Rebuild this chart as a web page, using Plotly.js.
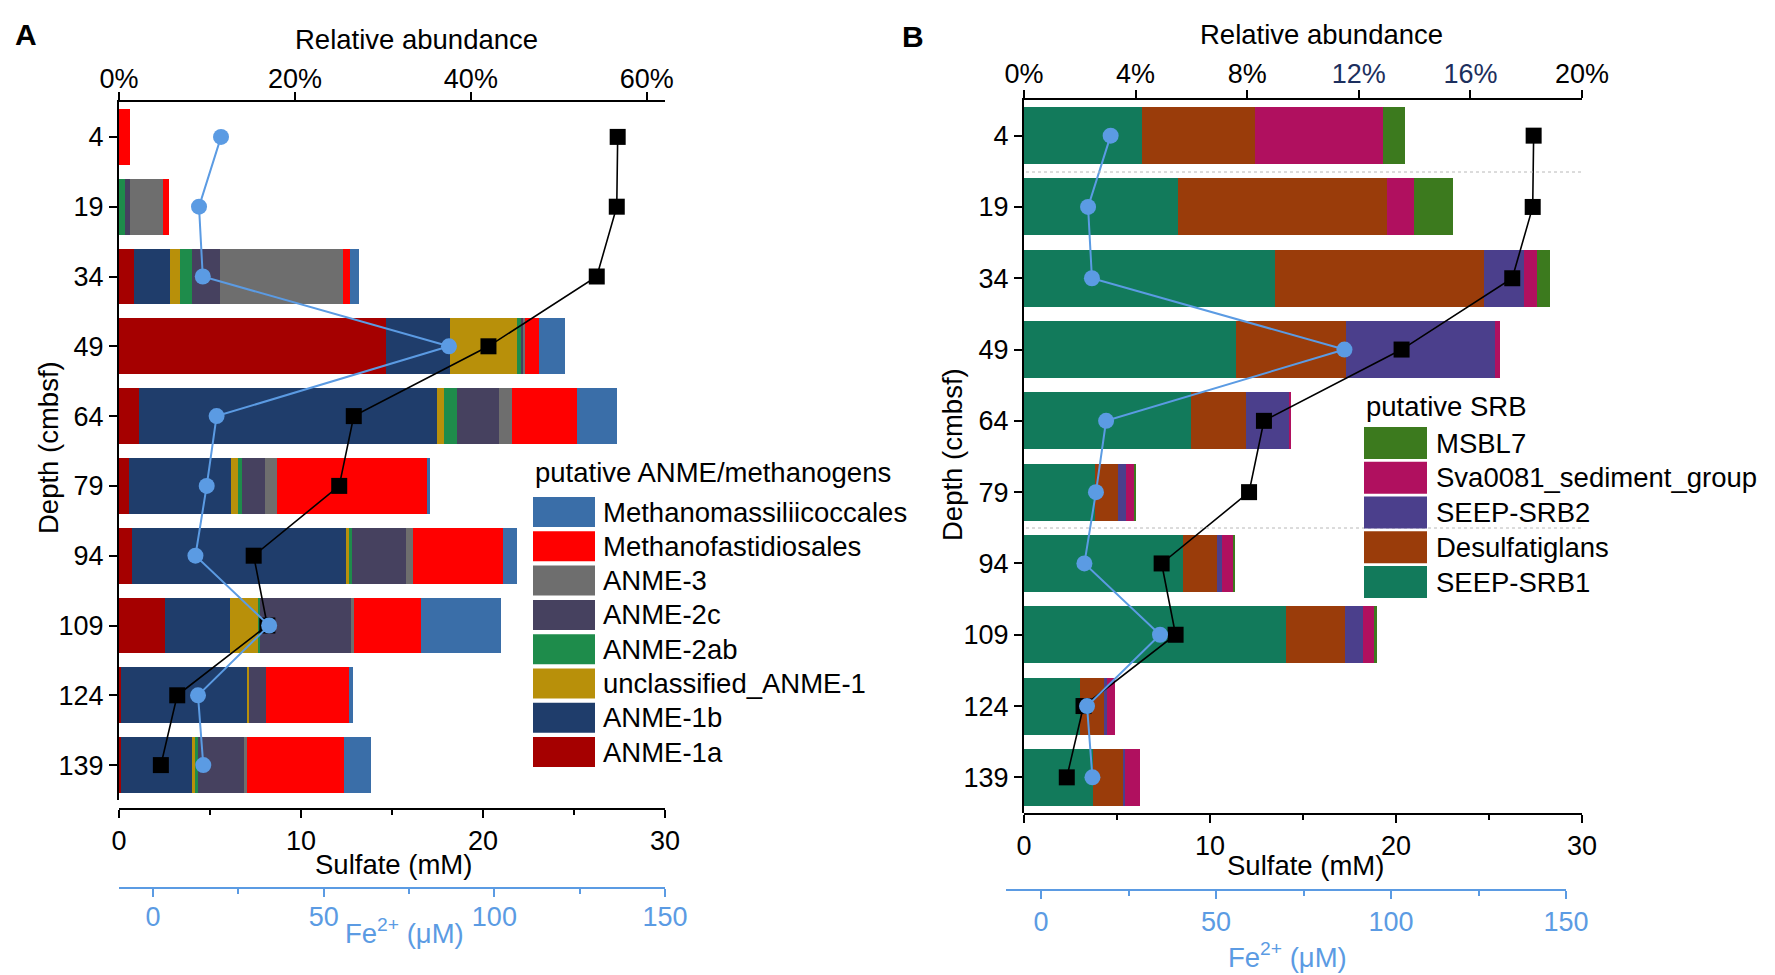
<!DOCTYPE html>
<html>
<head>
<meta charset="utf-8">
<script src="https://cdn.plot.ly/plotly-3.0.1.min.js"></script>
<style>html,body{margin:0;padding:0;background:#fff;}#chart{width:1775px;height:975px;}</style>
</head>
<body>
<div id="chart"></div>
<script>
// ---------- data ----------
const depths = [4, 19, 34, 49, 64, 79, 94, 109, 124, 139];
const sulfate = [27.4, 27.35, 26.25, 20.3, 12.9, 12.1, 7.4, 8.15, 3.2, 2.3];   // mM
const fe = [19.9, 13.45, 14.55, 86.7, 18.6, 15.7, 12.4, 34.0, 13.15, 14.7];     // µM

// Panel A (relative abundance, %), stacking order left -> right
const anmeNames = ["ANME-1a", "ANME-1b", "unclassified_ANME-1", "ANME-2ab", "ANME-2c", "ANME-3", "Methanofastidiosales", "Methanomassiliicoccales"];
const anme1a = [0, 0, 1.68, 30.4, 2.3, 1.17, 1.5, 5.2, 0.2, 0.2];
const anme1b = [0, 0, 4.16, 7.2, 33.8, 11.6, 24.3, 7.4, 14.4, 8.1];
const unclAnme1 = [0, 0, 1.07, 7.7, 0.86, 0.76, 0.4, 3.15, 0.2, 0.3];
const anme2ab = [0, 0.66, 1.37, 0.4, 1.5, 0.4, 0.3, 0.3, 0, 0.4];
const anme2c = [0, 0.56, 3.2, 0.25, 4.7, 2.7, 6.1, 10.3, 1.9, 5.2];
const anme3 = [0, 3.76, 13.96, 0.25, 1.5, 1.3, 0.86, 0.4, 0, 0.36];
const methanofast = [1.2, 0.76, 0.81, 1.5, 7.4, 17.1, 10.2, 7.6, 9.5, 11.0];
const methanomass = [0, 0, 1.07, 3.05, 4.5, 0.36, 1.6, 9.1, 0.36, 3.05];
const anmeValues = [anme1a, anme1b, unclAnme1, anme2ab, anme2c, anme3, methanofast, methanomass];
const anmeColors = ["#A50000", "#1F3D6B", "#B8900A", "#1E8C4B", "#46415F", "#6E6E6E", "#FF0000", "#3A6EA8"];

// Panel B (relative abundance, %), stacking order left -> right
const srbNames = ["SEEP-SRB1", "Desulfatiglans", "SEEP-SRB2", "Sva0081_sediment_group", "MSBL7"];
const seepSrb1 = [4.24, 5.53, 9.0, 7.6, 6.0, 2.55, 5.7, 9.4, 2.0, 2.49];
const desulfatiglans = [4.03, 7.47, 7.47, 3.95, 1.95, 0.82, 1.23, 2.12, 0.88, 1.05];
const seepSrb2 = [0, 0, 1.44, 5.33, 1.56, 0.27, 0.16, 0.62, 0.08, 0.08];
const sva0081 = [4.59, 0.99, 0.47, 0.19, 0.05, 0.31, 0.41, 0.41, 0.31, 0.53];
const msbl7 = [0.78, 1.38, 0.47, 0, 0, 0.06, 0.08, 0.1, 0, 0];
const srbValues = [seepSrb1, desulfatiglans, seepSrb2, sva0081, msbl7];
const srbColors = ["#127A5B", "#9A3C0A", "#4B3F8C", "#B0105F", "#3C7A1E"];

const pctTicksA = [0, 20, 40, 60];
const pctLabelsA = ["0%", "20%", "40%", "60%"];
const pctTicksB = [0, 4, 8, 12, 16, 20];
const pctLabelsB = ["0%", "4%", "8%", "<span style='color:#1c2f5e'>12%</span>", "<span style='color:#1c2f5e'>16%</span>", "20%"];
const sulfTicks = [0, 10, 20, 30];
const feTicks = [0, 50, 100, 150];

// ---------- helpers ----------
const W = 1775, H = 975;
const px = x => x / W;
const py = y => 1 - y / H;
const FONT = "Liberation Sans, Arial, sans-serif";
const BLUE = "#5B9BE3";
const TXT = 27.5;

const traces = [];
anmeNames.forEach((n, i) => traces.push({
  type: "bar", orientation: "h", name: n, x: anmeValues[i], y: depths, width: 12,
  xaxis: "x", yaxis: "y", marker: {color: anmeColors[i], line: {width: 0}}, showlegend: false
}));
srbNames.forEach((n, i) => traces.push({
  type: "bar", orientation: "h", name: n, x: srbValues[i], y: depths, width: 12,
  xaxis: "x4", yaxis: "y2", marker: {color: srbColors[i], line: {width: 0}}, showlegend: false
}));
const sulfStyle = {mode: "lines+markers", marker: {symbol: "square", size: 16, color: "#000"}, line: {color: "#000", width: 1.6}, showlegend: false};
const feStyle = {mode: "lines+markers", marker: {symbol: "circle", size: 16, color: BLUE}, line: {color: BLUE, width: 2}, showlegend: false};
traces.push(Object.assign({type: "scatter", x: sulfate, y: depths, xaxis: "x2", yaxis: "y", name: "Sulfate"}, sulfStyle));
traces.push(Object.assign({type: "scatter", x: fe, y: depths, xaxis: "x3", yaxis: "y", name: "Fe2+"}, feStyle));
traces.push(Object.assign({type: "scatter", x: sulfate, y: depths, xaxis: "x5", yaxis: "y2", name: "Sulfate"}, sulfStyle));
traces.push(Object.assign({type: "scatter", x: fe, y: depths, xaxis: "x6", yaxis: "y2", name: "Fe2+"}, feStyle));

const tf = {family: FONT, size: 27, color: "#000"};
const baseAx = {showgrid: false, zeroline: false, showline: true, linecolor: "#000", linewidth: 2,
  ticks: "outside", ticklen: 8, tickwidth: 2, tickcolor: "#000", tickfont: tf, fixedrange: true};
const minorBlack = {dtick: 5, tick0: 0, ticks: "outside", ticklen: 5, tickwidth: 2, tickcolor: "#000", showgrid: false};
const minorBlue = {dtick: 25, tick0: 0, ticks: "outside", ticklen: 5, tickwidth: 2, tickcolor: BLUE, showgrid: false};
const feFont = {family: FONT, size: 27, color: BLUE};

const domA = [px(119), px(665)], domB = [px(1024), px(1582)], domBfe = [px(1006), px(1566)];
const yDomA = [py(800), py(102)], yDomB = [py(813), py(100)];

const layout = {
  width: W, height: H, autosize: false,
  margin: {l: 0, r: 0, t: 0, b: 0},
  paper_bgcolor: "#fff", plot_bgcolor: "rgba(0,0,0,0)",
  barmode: "stack", showlegend: false,
  font: {family: FONT, size: 27, color: "#000"},
  // Panel A: relative abundance (top, bars), sulfate (bottom), Fe2+ (bottom, blue)
  xaxis: Object.assign({}, baseAx, {domain: domA, side: "top", anchor: "y", range: [0, 62.07],
    tickmode: "array", tickvals: pctTicksA, ticktext: pctLabelsA, ticklabelstandoff: -7}),
  xaxis2: Object.assign({}, baseAx, {overlaying: "x", side: "bottom", anchor: "free", position: py(809), range: [0, 30],
    tickvals: sulfTicks, minor: minorBlack}),
  xaxis3: Object.assign({}, baseAx, {overlaying: "x", side: "bottom", anchor: "free", position: py(888), range: [-10, 150],
    tickvals: feTicks, linecolor: BLUE, tickcolor: BLUE, tickfont: feFont, minor: minorBlue, ticklabelstandoff: -3}),
  yaxis: Object.assign({}, baseAx, {domain: yDomA, anchor: "x", range: [146.5, -3.5], tickvals: depths}),
  // Panel B
  xaxis4: Object.assign({}, baseAx, {domain: domB, side: "top", anchor: "y2", range: [0, 20],
    tickmode: "array", tickvals: pctTicksB, ticktext: pctLabelsB, ticklabelstandoff: -4}),
  xaxis5: Object.assign({}, baseAx, {overlaying: "x4", side: "bottom", anchor: "free", position: py(814), range: [0, 30],
    tickvals: sulfTicks, minor: minorBlack}),
  xaxis6: Object.assign({}, baseAx, {domain: domBfe, side: "bottom", anchor: "free", position: py(890), range: [-10, 150],
    tickvals: feTicks, linecolor: BLUE, tickcolor: BLUE, tickfont: feFont, minor: minorBlue}),
  yaxis2: Object.assign({}, baseAx, {domain: yDomB, anchor: "x4", range: [146.5, -3.5], tickvals: depths}),
  shapes: [],
  annotations: []
};

function ann(text, x, y, opts) {
  layout.annotations.push(Object.assign({text: text, x: px(x), y: py(y), xref: "paper", yref: "paper",
    showarrow: false, xanchor: "center", yanchor: "middle", font: {family: FONT, size: TXT, color: "#000"}}, opts || {}));
}
ann("<b>A</b>", 26, 35, {font: {family: FONT, size: 30, color: "#000"}});
ann("<b>B</b>", 913, 36, {font: {family: FONT, size: 30, color: "#000"}});
ann("Relative abundance", 416, 39);
ann("Relative abundance", 1321, 35);
ann("Sulfate (mM)", 393, 864);
ann("Sulfate (mM)", 1305, 865);
ann("Fe<sup>2+</sup> (μM)", 404, 931, {font: {family: FONT, size: TXT, color: BLUE}});
ann("Fe<sup>2+</sup> (μM)", 1287, 955, {font: {family: FONT, size: TXT, color: BLUE}});
ann("Depth (cmbsf)", 48, 448, {textangle: -90});
ann("Depth (cmbsf)", 952, 455, {textangle: -90});

// faint dotted separators in panel B
[172, 528].forEach(y => layout.shapes.push({type: "line", xref: "paper", yref: "paper",
  x0: px(1026), x1: px(1582), y0: py(y), y1: py(y), line: {color: "#b8b8b8", width: 1, dash: "dot"}}));

// custom legends (top to bottom = reverse stacking order)
function legend(title, names, colors, tx, ty, sx0, sx1, y0, step, sh, textX) {
  ann(title, tx, ty, {xanchor: "left"});
  const n = names.length;
  for (let k = 0; k < n; k++) {
    const i = n - 1 - k;
    const cy = y0 + k * step;
    layout.shapes.push({type: "rect", xref: "paper", yref: "paper", x0: px(sx0), x1: px(sx1),
      y0: py(cy - sh / 2), y1: py(cy + sh / 2), fillcolor: colors[i], line: {width: 0}});
    ann(names[i], textX, cy, {xanchor: "left"});
  }
}
legend("putative ANME/methanogens", anmeNames, anmeColors, 533, 473, 533, 595, 512, 34.3, 30, 601);
legend("putative SRB", srbNames, srbColors, 1364, 407, 1364, 1427, 443, 34.75, 32, 1434);

Plotly.newPlot("chart", traces, layout, {staticPlot: true, displayModeBar: false});
</script>
</body>
</html>
